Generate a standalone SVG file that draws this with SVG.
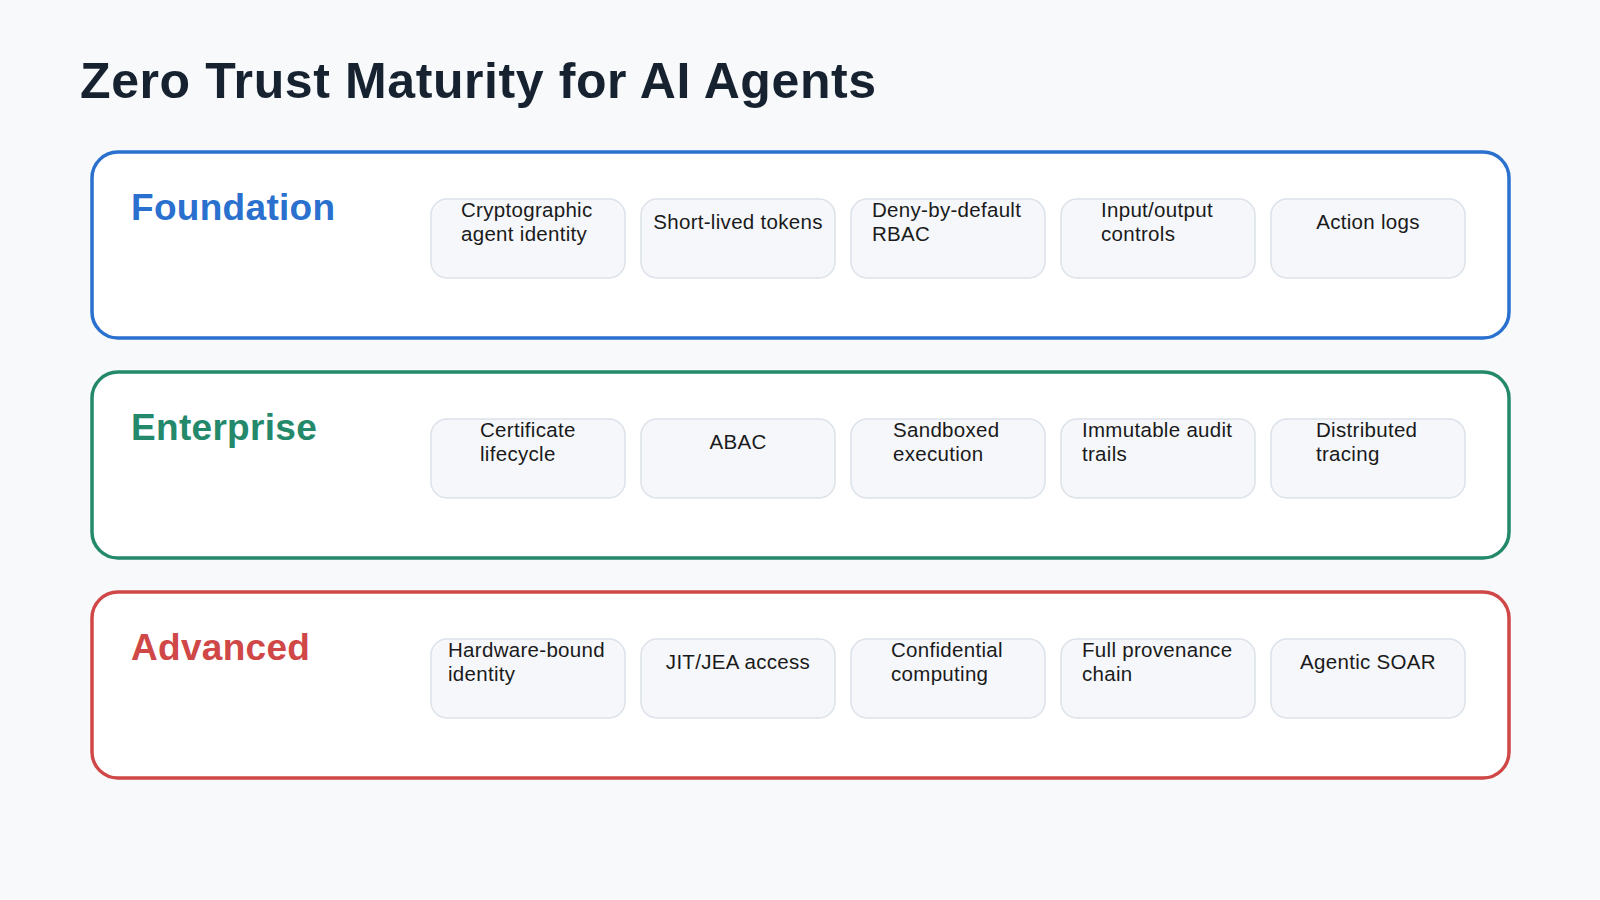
<svg xmlns="http://www.w3.org/2000/svg" width="1600" height="900" viewBox="0 0 1600 900">
<style>
text{font-family:"Liberation Sans",Arial,sans-serif}
.title{font-size:50px;font-weight:bold;fill:#172231;letter-spacing:0.6px}
.lbl{font-size:37px;font-weight:bold;letter-spacing:0.3px}
.panel{fill:#fff;stroke-width:3.5}
.chip{fill:#f5f7fa;stroke:#dce2e9;stroke-width:1.5}
.ct{font-size:20.5px;fill:#1a1a1a;letter-spacing:0.3px}
.m{text-anchor:middle}
</style>
<rect width="1600" height="900" fill="#f7f9fb"/>
<text class="title" x="80" y="98">Zero Trust Maturity for AI Agents</text>
<g id="foundation" transform="translate(0,152)">
<rect class="panel" x="92" y="0" width="1417" height="186" rx="26" stroke="#2a70cf"/>
<text class="lbl" x="131" y="68" fill="#2a70cf">Foundation</text>
<rect class="chip" x="431" y="47" width="194" height="79" rx="16"/>
<rect class="chip" x="641" y="47" width="194" height="79" rx="16"/>
<rect class="chip" x="851" y="47" width="194" height="79" rx="16"/>
<rect class="chip" x="1061" y="47" width="194" height="79" rx="16"/>
<rect class="chip" x="1271" y="47" width="194" height="79" rx="16"/>
<text class="ct" x="461" y="65">Cryptographic</text><text class="ct" x="461" y="89">agent identity</text>
<text class="ct m" x="738" y="77">Short-lived tokens</text>
<text class="ct" x="872" y="65">Deny-by-default</text><text class="ct" x="872" y="89">RBAC</text>
<text class="ct" x="1101" y="65">Input/output</text><text class="ct" x="1101" y="89">controls</text>
<text class="ct m" x="1368" y="77">Action logs</text>
</g>
<g id="enterprise" transform="translate(0,372)">
<rect class="panel" x="92" y="0" width="1417" height="186" rx="26" stroke="#23896a"/>
<text class="lbl" x="131" y="68" fill="#23896a">Enterprise</text>
<rect class="chip" x="431" y="47" width="194" height="79" rx="16"/>
<rect class="chip" x="641" y="47" width="194" height="79" rx="16"/>
<rect class="chip" x="851" y="47" width="194" height="79" rx="16"/>
<rect class="chip" x="1061" y="47" width="194" height="79" rx="16"/>
<rect class="chip" x="1271" y="47" width="194" height="79" rx="16"/>
<text class="ct" x="480" y="65">Certificate</text><text class="ct" x="480" y="89">lifecycle</text>
<text class="ct m" x="738" y="77">ABAC</text>
<text class="ct" x="893" y="65">Sandboxed</text><text class="ct" x="893" y="89">execution</text>
<text class="ct" x="1082" y="65">Immutable audit</text><text class="ct" x="1082" y="89">trails</text>
<text class="ct" x="1316" y="65">Distributed</text><text class="ct" x="1316" y="89">tracing</text>
</g>
<g id="advanced" transform="translate(0,592)">
<rect class="panel" x="92" y="0" width="1417" height="186" rx="26" stroke="#d04747"/>
<text class="lbl" x="131" y="68" fill="#d04747">Advanced</text>
<rect class="chip" x="431" y="47" width="194" height="79" rx="16"/>
<rect class="chip" x="641" y="47" width="194" height="79" rx="16"/>
<rect class="chip" x="851" y="47" width="194" height="79" rx="16"/>
<rect class="chip" x="1061" y="47" width="194" height="79" rx="16"/>
<rect class="chip" x="1271" y="47" width="194" height="79" rx="16"/>
<text class="ct" x="448" y="65">Hardware-bound</text><text class="ct" x="448" y="89">identity</text>
<text class="ct m" x="738" y="77">JIT/JEA access</text>
<text class="ct" x="891" y="65">Confidential</text><text class="ct" x="891" y="89">computing</text>
<text class="ct" x="1082" y="65">Full provenance</text><text class="ct" x="1082" y="89">chain</text>
<text class="ct m" x="1368" y="77">Agentic SOAR</text>
</g>
<g id="connectors"/>
</svg>
